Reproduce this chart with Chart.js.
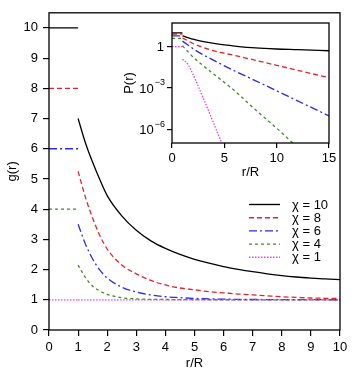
<!DOCTYPE html>
<html>
<head>
<meta charset="utf-8">
<script src="https://cdn.jsdelivr.net/npm/chart.js@4.4.0/dist/chart.umd.min.js"></script>
<style>
  html, body { margin: 0; padding: 0; background: #fff; }
  #wrap { position: relative; width: 357px; height: 378px; }
  #wrap canvas { position: absolute; left: 0; top: 0; }
</style>
</head>
<body>
<div id="wrap">
  <canvas id="main" width="357" height="378"></canvas>
  <canvas id="inset" width="357" height="378"></canvas>
</div>
<script>
// ── data ────────────────────────────────────────────────
const LABELS = ["χ = 10", "χ = 8", "χ = 6", "χ = 4", "χ = 1"];
const CHI    = [10, 8, 6, 4, 1];          // g(r) = χ inside r < 1

// main plot, r > 1
const R_MAIN = [1, 1.25, 1.5, 1.75, 2, 2.5, 3, 3.5, 4, 4.5, 5, 5.5, 6, 6.5, 7, 7.5, 8, 8.5, 9, 9.5, 10];
const G10 = [7.0, 6.2, 5.55, 4.97, 4.45, 3.78, 3.3, 2.95, 2.7, 2.5, 2.34, 2.21, 2.1, 2.01, 1.93, 1.86, 1.8, 1.755, 1.72, 1.69, 1.67];
const G8  = [5.25, 4.4, 3.7, 3.12, 2.68, 2.15, 1.86, 1.64, 1.49, 1.39, 1.33, 1.27, 1.23, 1.19, 1.16, 1.13, 1.1, 1.08, 1.06, 1.05, 1.04];
const G6  = [3.5, 2.85, 2.35, 1.98, 1.72, 1.42, 1.26, 1.16, 1.1, 1.07, 1.045, 1.03, 1.02, 1.015, 1.01, 1.008, 1.005, 1.004, 1.003, 1.002, 1.001];
const G4  = [2.15, 1.74, 1.45, 1.29, 1.18, 1.07, 1.03, 1.015, 1.01, 1.005, 1.003, 1.002, 1.001, 1, 1, 1, 1, 1, 1, 1, 1];
const G1  = [1, 1, 1, 1, 1, 1, 1, 1, 1, 1, 1, 1, 1, 1, 1, 1, 1, 1, 1, 1, 1];
const X_TICKS = [0, 1, 2, 3, 4, 5, 6, 7, 8, 9, 10];
const Y_TICKS = [0, 1, 2, 3, 4, 5, 6, 7, 8, 9, 10];

// inset P(r), r > 1 (log scale)
const R_IN = [1, 1.5, 2, 3, 4, 5, 6, 8, 10, 12, 15];
const P10 = [6, 4.55, 3.45, 2.3, 1.7, 1.34, 1.1, 0.8, 0.67, 0.6, 0.5];
const P8  = [4.25, 2.7, 1.68, 0.86, 0.49, 0.33, 0.23, 0.1, 0.044, 0.019, 0.0055];
const P6  = [2.5, 1.35, 0.72, 0.25, 0.1, 0.04, 0.017, 0.0033, 0.00062, 0.000115, 0.0000093];
const P4  = [1.15, 0.45, 0.18, 0.04, 0.01, 0.0025, 0.0006, 0.000025, 0.0000012, 0.00000005, 0.000000001];
const P1  = [0.12, 0.055, 0.01, 0.00017, 0.0000025, 0.000000035, 0.0000000005, null, null, null, null];
const XI_TICKS = [0, 5, 10, 15];
const YI_TICKS = [1e-6, 1e-3, 1];
const YI_LABELS = [["10", "−6"], ["10", "−3"], ["1", ""]];

// ── styles ──────────────────────────────────────────────
const COLORS = ["#000000", "#e0262a", "#2a2af2", "#3f8a24", "#ee3cee"];
const DASHES = [[], [5, 3], [8, 3, 2, 3], [3, 3], [1.5, 1.5]];
const FONT = "'Liberation Sans', Arial, Helvetica, sans-serif";

Chart.defaults.font.family = FONT;
Chart.defaults.font.size = 13;
Chart.defaults.color = "#000";

function series(chi, rs, vals) {
  const pts = [{x: 0, y: chi}, {x: 1, y: chi}, {x: 1, y: null}];
  rs.forEach((r, i) => pts.push({x: r, y: vals[i]}));
  return pts;
}

function makeDatasets(rs, arrs) {
  return arrs.map((vals, i) => ({
    label: LABELS[i],
    data: series(CHI[i], rs, vals),
    borderColor: COLORS[i],
    borderDash: DASHES[i],
    borderWidth: 1.3,
    pointRadius: 0,
    fill: false,
    spanGaps: false,
    cubicInterpolationMode: "monotone",
    order: i === 4 ? -1 : i,
  }));
}

const framePlugin = {
  id: "frame",
  afterDraw(chart) {
    const {ctx, chartArea: a} = chart;
    ctx.save();
    ctx.strokeStyle = "#000";
    ctx.lineWidth = 1.3;
    ctx.strokeRect(a.left, a.top, a.right - a.left, a.bottom - a.top);
    ctx.restore();
  }
};

const legendPlugin = {
  id: "inlegend",
  afterDraw(chart) {
    const ctx = chart.ctx;
    ctx.save();
    ctx.font = "13px " + FONT;
    ctx.textBaseline = "middle";
    ctx.fillStyle = "#000";
    LABELS.forEach((lab, i) => {
      const y = 204.5 + i * 13.2;
      ctx.beginPath();
      ctx.setLineDash(DASHES[i]);
      ctx.strokeStyle = COLORS[i];
      ctx.lineWidth = 1.4;
      ctx.moveTo(249, y);
      ctx.lineTo(280, y);
      ctx.stroke();
      ctx.fillText(lab, 292, y + 0.5);
    });
    ctx.restore();
  }
};

const insetLabels = {
  id: "insetlabels",
  afterDraw(chart) {
    const ctx = chart.ctx;
    const sc = chart.scales.y;
    ctx.save();
    ctx.fillStyle = "#000";
    ctx.textBaseline = "middle";
    YI_TICKS.forEach((v, i) => {
      const y = sc.getPixelForValue(v);
      const [base, sup] = YI_LABELS[i];
      let right = sc.right - 6 - 2;
      ctx.font = "9px " + FONT;
      const sw = sup ? ctx.measureText(sup).width : 0;
      if (sup) {
        ctx.textAlign = "right";
        ctx.fillText(sup, right + 1, y - 5);
      }
      ctx.font = "13px " + FONT;
      ctx.textAlign = "right";
      ctx.fillText(base, right - sw, y + 1);
    });
    ctx.restore();
  }
};

const axisBase = {
  grid: { display: true, drawOnChartArea: false, drawTicks: true, tickLength: 6, color: "#000", lineWidth: 1.2 },
  border: { display: false },
};

// ── main chart ──────────────────────────────────────────
new Chart(document.getElementById("main"), {
  type: "line",
  data: { datasets: makeDatasets(R_MAIN, [G10, G8, G6, G4, G1]) },
  options: {
    responsive: false,
    animation: false,
    devicePixelRatio: 1,
    layout: { padding: { left: 0, top: 11, right: 17, bottom: 0 } },
    plugins: { legend: { display: false }, tooltip: { enabled: false } },
    scales: {
      x: {
        ...axisBase,
        type: "linear", min: 0, max: 10,
        afterBuildTicks: s => { s.ticks = X_TICKS.map(v => ({value: v})); },
        afterFit: s => { s.height = 48; },
        ticks: { padding: 4, maxRotation: 0, autoSkip: false },
        title: { display: true, text: "r/R", padding: { top: 0, bottom: 7 } },
      },
      y: {
        ...axisBase,
        type: "linear", min: 0, max: 10.5,
        afterBuildTicks: s => { s.ticks = Y_TICKS.map(v => ({value: v})); },
        afterFit: s => { s.width = 49; },
        ticks: { padding: 5, autoSkip: false },
        title: { display: true, text: "g(r)", padding: { top: 5, bottom: 0 } },
      }
    }
  },
  plugins: [framePlugin, legendPlugin]
});

// ── inset ───────────────────────────────────────────────
new Chart(document.getElementById("inset"), {
  type: "line",
  data: { datasets: makeDatasets(R_IN, [P10, P8, P6, P4, P1]) },
  options: {
    responsive: false,
    animation: false,
    devicePixelRatio: 1,
    layout: { padding: { left: 122, top: 23, right: 28, bottom: 198 } },
    plugins: { legend: { display: false }, tooltip: { enabled: false } },
    scales: {
      x: {
        ...axisBase,
        grid: { ...axisBase.grid, tickLength: 5 },
        type: "linear", min: 0, max: 15,
        afterBuildTicks: s => { s.ticks = XI_TICKS.map(v => ({value: v})); },
        afterFit: s => { s.height = 37; },
        ticks: { padding: 3, maxRotation: 0, autoSkip: false },
        title: { display: true, text: "r/R", padding: { top: 0, bottom: 0 } },
      },
      y: {
        ...axisBase,
        grid: { ...axisBase.grid, tickLength: 5 },
        type: "logarithmic", min: 1e-7, max: 52,
        afterBuildTicks: s => { s.ticks = YI_TICKS.map(v => ({value: v})); },
        afterFit: s => { s.width = 50; },
        ticks: { display: false },
        title: { display: true, text: "P(r)", padding: { top: 0, bottom: 0 } },
      }
    }
  },
  plugins: [framePlugin, insetLabels]
});
</script>
</body>
</html>
